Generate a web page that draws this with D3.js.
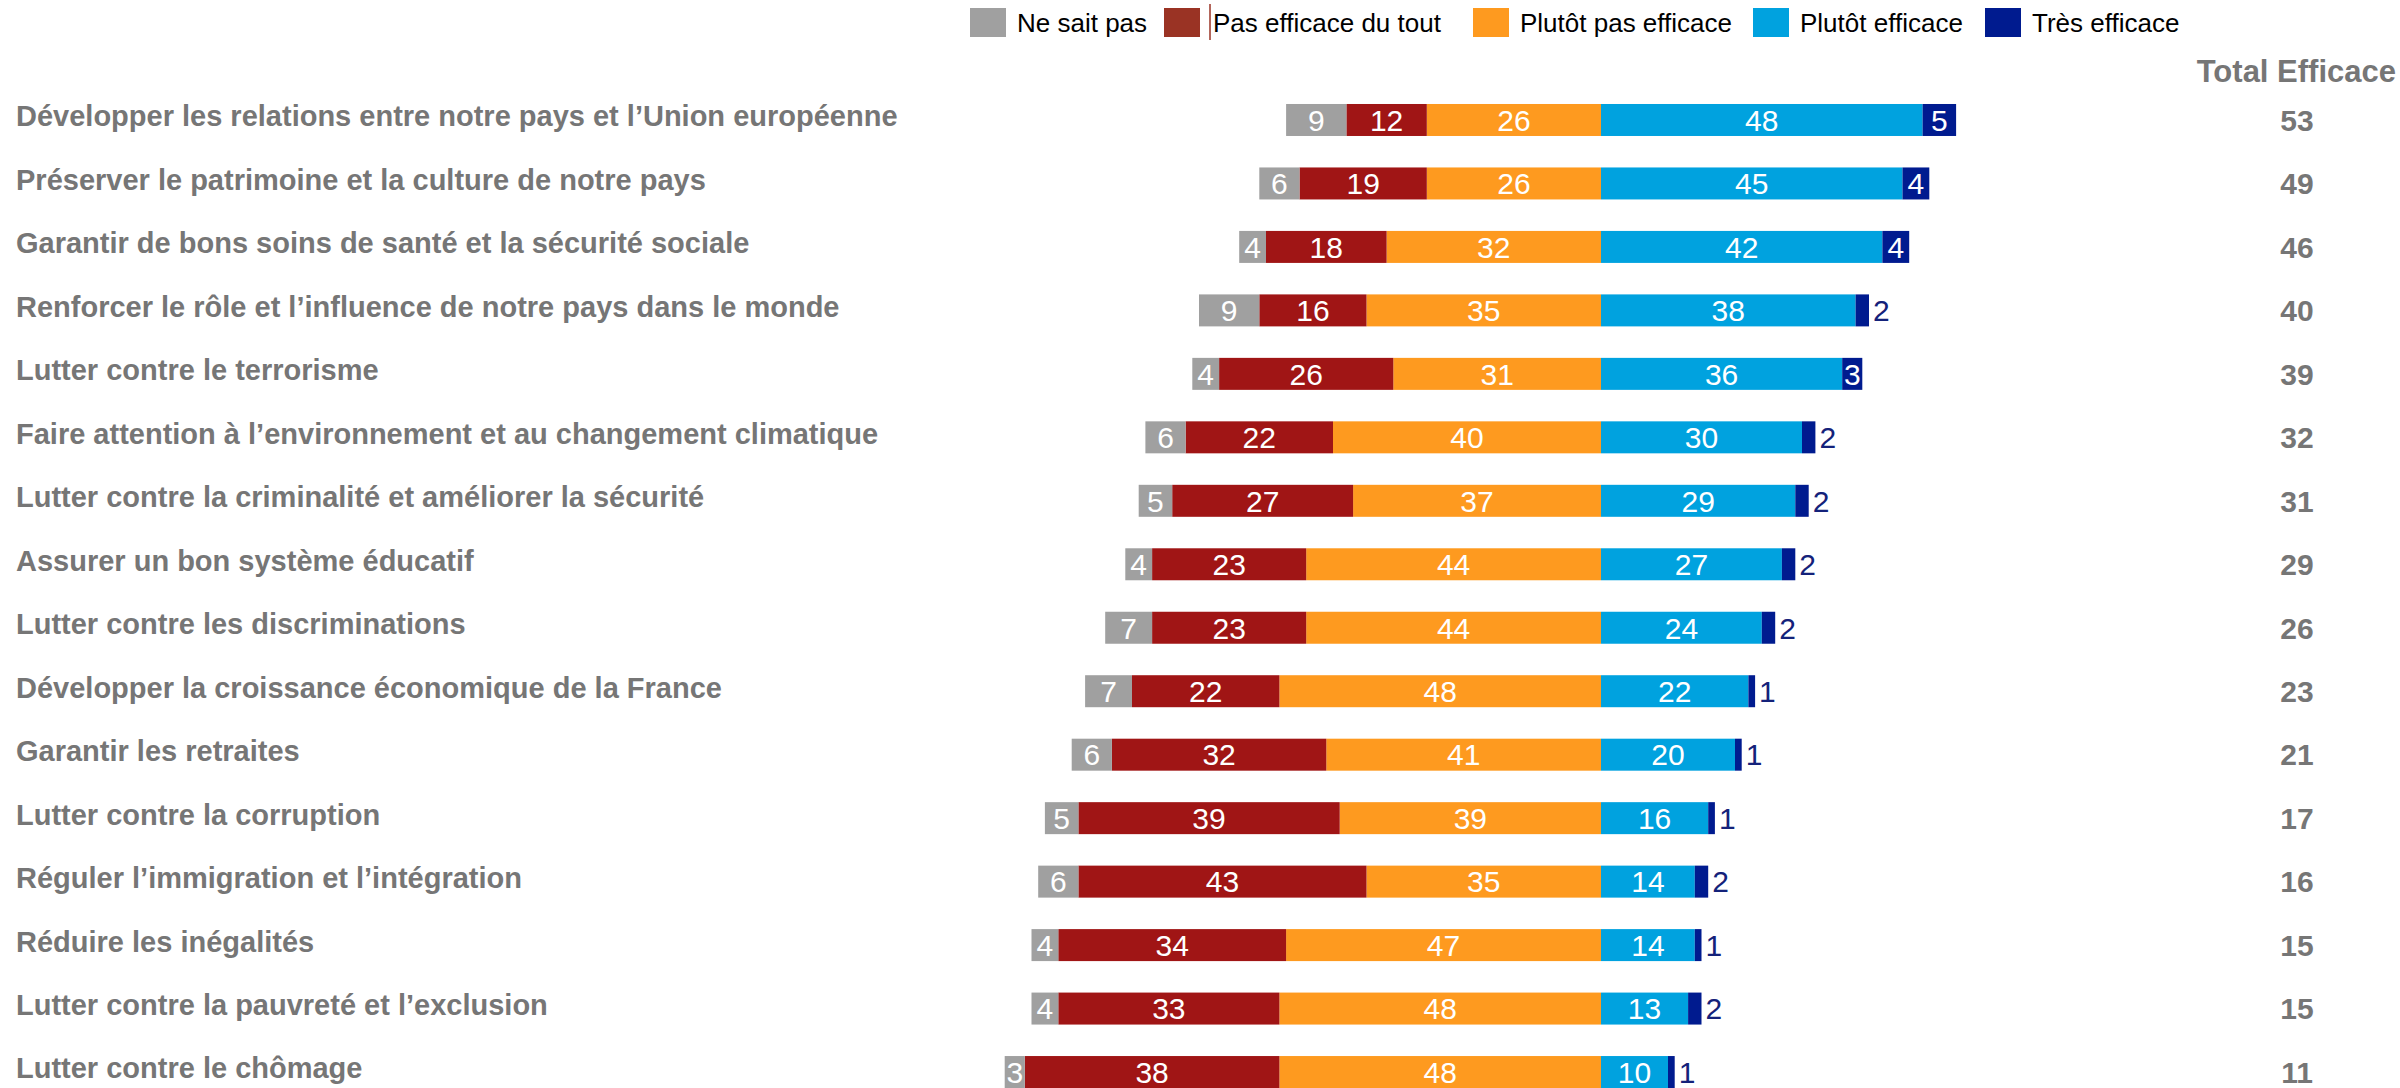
<!DOCTYPE html>
<html>
<head>
<meta charset="utf-8">
<script src="https://cdn.jsdelivr.net/npm/d3@7"></script>
<style>
  body { margin: 0; background: #fff; }
  text { font-family: "Liberation Sans", Arial, sans-serif; }
</style>
</head>
<body>
<div class="chart"></div>
<script>
var svgWidth = 2400;
var svgHeight = 1088;

// categories (top to bottom)
var items = [
  "Développer les relations entre notre pays et l’Union européenne",
  "Préserver le patrimoine et la culture de notre pays",
  "Garantir de bons soins de santé et la sécurité sociale",
  "Renforcer le rôle et l’influence de notre pays dans le monde",
  "Lutter contre le terrorisme",
  "Faire attention à l’environnement et au changement climatique",
  "Lutter contre la criminalité et améliorer la sécurité",
  "Assurer un bon système éducatif",
  "Lutter contre les discriminations",
  "Développer la croissance économique de la France",
  "Garantir les retraites",
  "Lutter contre la corruption",
  "Réguler l’immigration et l’intégration",
  "Réduire les inégalités",
  "Lutter contre la pauvreté et l’exclusion",
  "Lutter contre le chômage"
];

// series values
var neSaitPas      = [9, 6, 4, 9, 4, 6, 5, 4, 7, 7, 6, 5, 6, 4, 4, 3];
var pasDuTout      = [12, 19, 18, 16, 26, 22, 27, 23, 23, 22, 32, 39, 43, 34, 33, 38];
var plutotPas      = [26, 26, 32, 35, 31, 40, 37, 44, 44, 48, 41, 39, 35, 47, 48, 48];
var plutotEfficace = [48, 45, 42, 38, 36, 30, 29, 27, 24, 22, 20, 16, 14, 14, 13, 10];
var tresEfficace   = [5, 4, 4, 2, 3, 2, 2, 2, 2, 1, 1, 1, 2, 1, 2, 1];
var totalEfficace  = [53, 49, 46, 40, 39, 32, 31, 29, 26, 23, 21, 17, 16, 15, 15, 11];

var seriesNames = ["Ne sait pas", "Pas efficace du tout", "Plutôt pas efficace", "Plutôt efficace", "Très efficace"];
var barColors = ["#a0a0a0", "#a01515", "#fe9a1f", "#00a2df", "#001b8f"];
var legendColors = ["#a0a0a0", "#9a3324", "#fe9a1f", "#00a2df", "#001b8f"];

var svg = d3.select(".chart")
  .append("svg")
  .attr("width", svgWidth)
  .attr("height", svgHeight);

// x scale: negatives to the left of the zero line
var x = d3.scaleLinear()
  .domain([-90, 60])
  .range([998, 2003]);

var y = d3.scaleBand()
  .domain(items)
  .range([88.25, 88.25 + 16 * 63.47])
  .paddingInner(0.496)
  .paddingOuter(0.248);

// build segments
var segments = [];
items.forEach(function(item, i) {
  var left = [
    { s: 2, v: plutotPas[i] },
    { s: 1, v: pasDuTout[i] },
    { s: 0, v: neSaitPas[i] }
  ];
  var pos = 0;
  left.forEach(function(d) {
    segments.push({ item: item, s: d.s, v: d.v, x0: pos - d.v, x1: pos });
    pos -= d.v;
  });
  var right = [
    { s: 3, v: plutotEfficace[i] },
    { s: 4, v: tresEfficace[i] }
  ];
  pos = 0;
  right.forEach(function(d) {
    segments.push({ item: item, s: d.s, v: d.v, x0: pos, x1: pos + d.v });
    pos += d.v;
  });
});

var bars = svg.append("g");

bars.selectAll("rect")
  .data(segments)
  .enter()
  .append("rect")
  .attr("x", d => x(d.x0))
  .attr("y", d => y(d.item))
  .attr("width", d => x(d.x1) - x(d.x0))
  .attr("height", y.bandwidth())
  .attr("fill", d => barColors[d.s]);

// value labels
bars.selectAll("text")
  .data(segments)
  .enter()
  .append("text")
  .attr("x", function(d) {
    if (d.s === 4 && d.v <= 2) return x(d.x1) + 4;
    return (x(d.x0) + x(d.x1)) / 2;
  })
  .attr("y", d => y(d.item) + y.bandwidth() / 2)
  .attr("dy", "0.36em")
  .attr("text-anchor", d => (d.s === 4 && d.v <= 2) ? "start" : "middle")
  .attr("font-size", "30px")
  .attr("fill", d => (d.s === 4 && d.v <= 2) ? "#14227a" : "#fff")
  .text(d => d.v);

// category labels
svg.append("g")
  .selectAll("text")
  .data(items)
  .enter()
  .append("text")
  .attr("x", 16)
  .attr("y", d => y(d) + y.bandwidth() / 2 - 4)
  .attr("dy", "0.36em")
  .attr("font-size", "29px")
  .attr("font-weight", "bold")
  .attr("fill", "#767676")
  .text(d => d);

// total column
svg.append("text")
  .attr("x", 2396)
  .attr("y", 82)
  .attr("text-anchor", "end")
  .attr("font-size", "31px")
  .attr("font-weight", "bold")
  .attr("fill", "#767676")
  .text("Total Efficace");

svg.append("g")
  .selectAll("text")
  .data(totalEfficace)
  .enter()
  .append("text")
  .attr("x", 2297)
  .attr("y", (d, i) => y(items[i]) + y.bandwidth() / 2)
  .attr("dy", "0.36em")
  .attr("text-anchor", "middle")
  .attr("font-size", "30px")
  .attr("font-weight", "bold")
  .attr("fill", "#767676")
  .text(d => d);

// legend
var legendX = [970, 1164, 1473, 1753, 1985];
var legend = svg.append("g");

legend.selectAll("rect")
  .data(seriesNames)
  .enter()
  .append("rect")
  .attr("x", (d, i) => legendX[i])
  .attr("y", 8)
  .attr("width", 36)
  .attr("height", 29)
  .attr("fill", (d, i) => legendColors[i]);

legend.selectAll("text")
  .data(seriesNames)
  .enter()
  .append("text")
  .attr("x", (d, i) => legendX[i] + (i === 1 ? 49 : 47))
  .attr("y", 23)
  .attr("dy", "0.36em")
  .attr("font-size", "26px")
  .attr("fill", "#000")
  .text(d => d);

// thin marker next to the second legend entry
legend.append("line")
  .attr("x1", 1210)
  .attr("x2", 1210)
  .attr("y1", 4)
  .attr("y2", 40)
  .attr("stroke", "#9a3324")
  .attr("stroke-width", 1.5);
</script>
</body>
</html>
